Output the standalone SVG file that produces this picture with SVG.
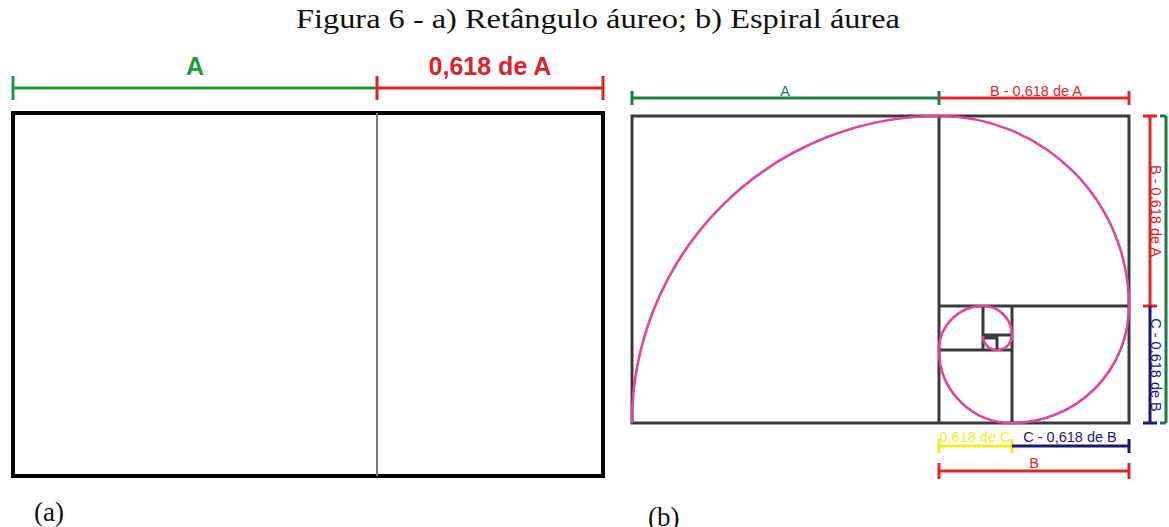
<svg xmlns="http://www.w3.org/2000/svg" width="1169" height="527" viewBox="0 0 1169 527">
<style>
.title{font-family:"Liberation Serif","Times New Roman",serif;font-size:28px;fill:#111}
.cap{font-family:"Liberation Serif","Times New Roman",serif;font-size:27px;fill:#111}
.big{font-family:"Liberation Sans",Arial,sans-serif;font-size:25px;font-weight:bold}
.sm{font-family:"Liberation Sans",Arial,sans-serif;font-size:14.5px}
.box{fill:none;stroke:#3a3a3a;stroke-width:3}
.spiral{fill:none;stroke:#e0459a;stroke-width:2.6}
.dim{fill:none;stroke-width:3}
</style>
<rect width="1169" height="527" fill="#fff"/>
<text class="title" x="296" y="28" textLength="604" lengthAdjust="spacingAndGlyphs">Figura 6 - a) Retângulo áureo; b) Espiral áurea</text>

<g id="figA">
  <rect x="13" y="113" width="590" height="363" fill="none" stroke="#000" stroke-width="4"/>
  <line x1="377" y1="113" x2="377" y2="476" stroke="#777" stroke-width="2"/>
</g>
<g id="dimA">
  <path class="dim" stroke="#1e9a3d" d="M13 88H377M13 76V100"/>
  <path class="dim" stroke="#e0202a" d="M377 88H603M377 76V100M603 76V100"/>
  <text class="big" x="195" y="75" text-anchor="middle" fill="#1e9a3d">A</text>
  <text class="big" x="490" y="75" text-anchor="middle" fill="#e0202a">0,618 de A</text>
</g>
<text class="cap" x="34" y="521">(a)</text>

<g id="figB">
  <rect class="box" x="632" y="116" width="497" height="307"/>
  <path class="box" d="M939 116V423M939 306H1129M1012 306V423M939 350H1012M983 306V350M983 335H1012M997 335V350M983 338H997"/>
</g>
<g id="spiral">
  <path class="spiral" d="M632 423A307 307 0 0 1 939 116A190 190 0 0 1 1129 306A117 117 0 0 1 1012 423A73 73 0 0 1 939 350A44 44 0 0 1 983 306A29 29 0 0 1 1012 335A15 15 0 0 1 997 350A14 14 0 0 1 983 336"/>
</g>
<g id="dimB">
  <path class="dim" stroke-width="2.5" stroke="#1e7a45" d="M632 98H939M632 91V105M939 91V105"/>
  <path class="dim" stroke-width="2.5" stroke="#e0262a" d="M939 98H1129M1129 91V105"/>
  <text class="sm" x="785" y="96" text-anchor="middle" fill="#1e7a45">A</text>
  <text class="sm" x="1036" y="96" text-anchor="middle" fill="#e0262a">B - 0,618 de A</text>

  <path class="dim" stroke-width="2.5" stroke="#e0262a" d="M1150 116V306M1143 116H1157M1143 306H1157"/>
  <path class="dim" stroke-width="2.5" stroke="#1a1a70" d="M1150 306V423M1143 423H1157"/>
  <path class="dim" stroke-width="2.5" stroke="#1e7a45" d="M1166 116V423M1160 116H1166M1160 423H1166"/>
  <text class="sm" transform="translate(1151 211) rotate(90)" text-anchor="middle" fill="#e0262a">B - 0,618 de A</text>
  <text class="sm" transform="translate(1151 365) rotate(90)" text-anchor="middle" fill="#1a1a70">C - 0,618 de B</text>

  <path class="dim" stroke-width="2.5" stroke="#eeee22" d="M939 446H1012M939 439V453M1012 439V453"/>
  <path class="dim" stroke-width="2.5" stroke="#1a1a70" d="M1012 446H1129M1129 439V453"/>
  <text class="sm" x="975" y="442" text-anchor="middle" fill="#eeee22">0,618 de C</text>
  <text class="sm" x="1070" y="442" text-anchor="middle" fill="#1a1a70">C - 0,618 de B</text>

  <path class="dim" stroke-width="2.5" stroke="#e0262a" d="M939 471H1129M939 463V479M1129 463V479"/>
  <text class="sm" x="1034" y="468" text-anchor="middle" fill="#e0262a">B</text>
</g>
<text class="cap" x="648" y="526">(b)</text>
</svg>
